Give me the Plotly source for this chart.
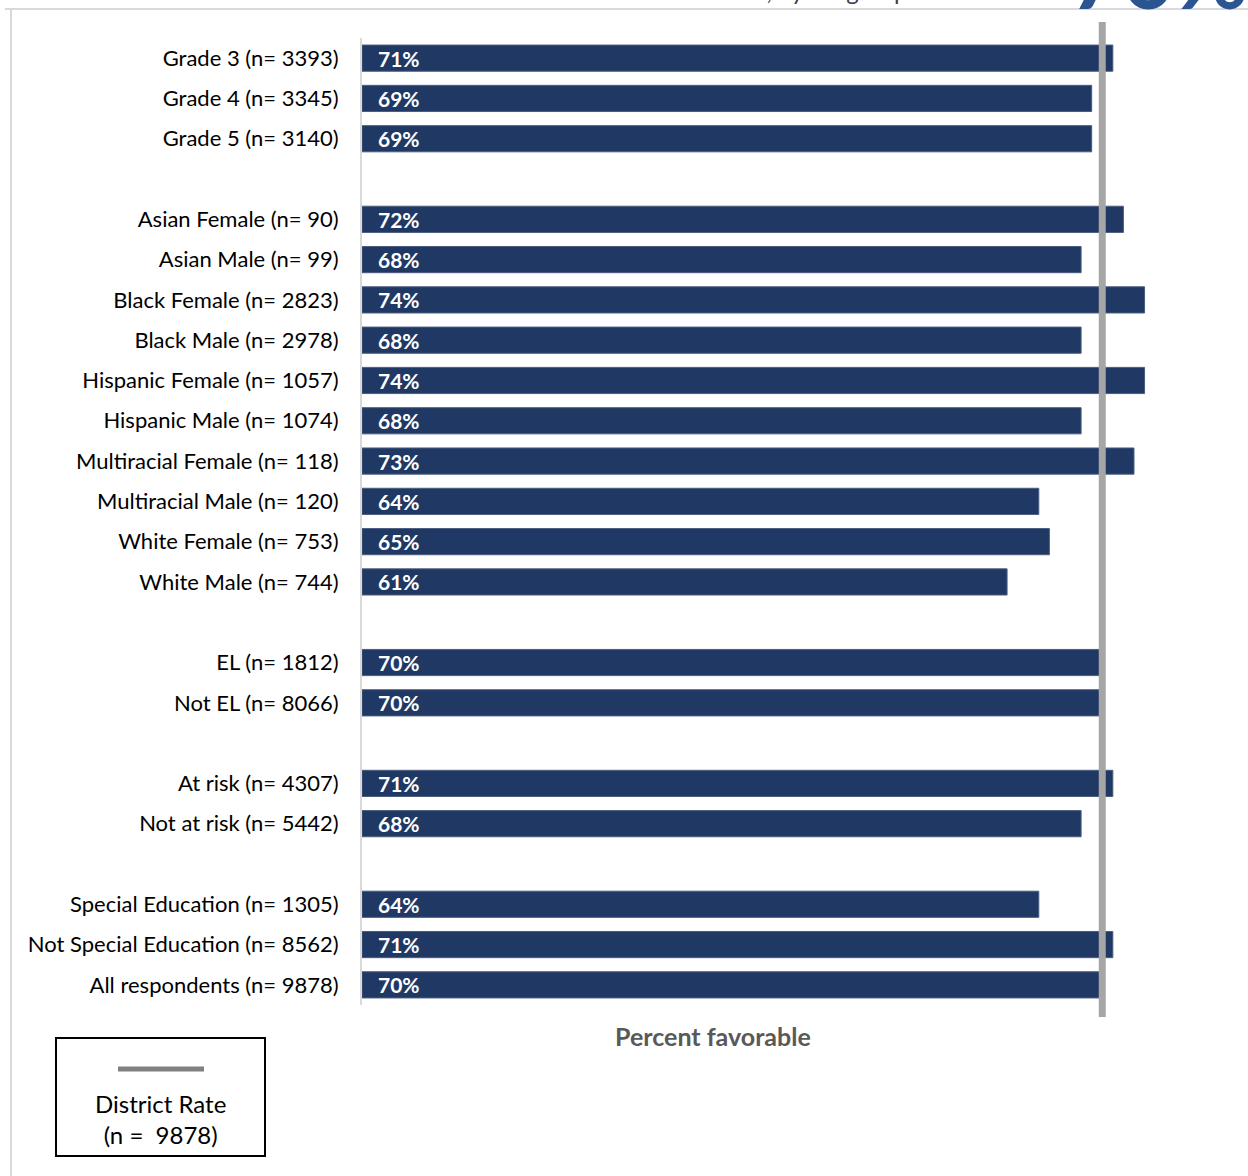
import plotly.graph_objects as go

# ---- data -------------------------------------------------------------
grade_labels = ["Grade 3 (n= 3393)", "Grade 4 (n= 3345)", "Grade 5 (n= 3140)"]
grade_values = [71, 69, 69]

race_gender_labels = [
    "Asian Female (n= 90)", "Asian Male (n= 99)",
    "Black Female (n= 2823)", "Black Male (n= 2978)",
    "Hispanic Female (n= 1057)", "Hispanic Male (n= 1074)",
    "Multiracial Female (n= 118)", "Multiracial Male (n= 120)",
    "White Female (n= 753)", "White Male (n= 744)",
]
race_gender_values = [72, 68, 74, 68, 74, 68, 73, 64, 65, 61]

el_labels = ["EL (n= 1812)", "Not EL (n= 8066)"]
el_values = [70, 70]

risk_labels = ["At risk (n= 4307)", "Not at risk (n= 5442)"]
risk_values = [71, 68]

sped_labels = ["Special Education (n= 1305)", "Not Special Education (n= 8562)",
               "All respondents (n= 9878)"]
sped_values = [64, 71, 70]

district_rate = 70
district_n = 9878

groups = [
    (grade_labels, grade_values),
    (race_gender_labels, race_gender_values),
    (el_labels, el_values),
    (risk_labels, risk_values),
    (sped_labels, sped_values),
]

# ---- layout geometry (pixels) ------------------------------------------
W, H = 1248, 1176
M_L, M_R, M_T, M_B = 362, 40, 38, 171
PW = W - M_L - M_R
PH = H - M_T - M_B
X_MAX = 80

def px_x(px):
    return (px - M_L) / PW

def px_y(py):
    return (H - M_B - py) / PH

FONT = "Lato"
NAVY = "#203864"

# categories with blank spacer rows between groups
cats, vals = [], []
for gi, (labs, vs) in enumerate(groups):
    if gi > 0:
        cats.append(" " * gi)
        vals.append(None)
    cats.extend(labs)
    vals.extend(vs)

bar_cats = [c for c, v in zip(cats, vals) if v is not None]
bar_vals = [v for v in vals if v is not None]

fig = go.Figure()
fig.add_trace(go.Bar(
    y=bar_cats, x=bar_vals, orientation="h", width=0.65,
    marker=dict(color=NAVY, line=dict(color="#4a5d80", width=1)),
    hoverinfo="skip", showlegend=False,
))

annotations = []
for c, v in zip(bar_cats, bar_vals):
    annotations.append(dict(
        x=0, y=c, xref="x", yref="y", text=f"<b>{v}%</b>",
        showarrow=False, xanchor="left", yanchor="middle", xshift=14,
        font=dict(family=FONT, size=21, color="white"),
    ))

# axis title
annotations.append(dict(
    x=px_x(713), y=px_y(1036), xref="paper", yref="paper",
    xanchor="center", yanchor="middle",
    text="<b>Percent favorable</b>", showarrow=False,
    font=dict(family=FONT, size=25, color="#595959"),
))

# legend box text
annotations.append(dict(
    x=px_x(160), y=px_y(1119), xref="paper", yref="paper",
    xanchor="center", yanchor="middle",
    text="District Rate<br>(n =  %d)" % district_n, showarrow=False,
    font=dict(family=FONT, size=24, color="#000000"),
))

# headline figure and title (mostly above the visible area)
annotations.append(dict(
    x=px_x(1250), y=px_y(30), xref="paper", yref="paper",
    text=f"<b>{district_rate}%</b>", showarrow=False,
    xanchor="right", yanchor="bottom",
    font=dict(family=FONT, size=90, color="#2b5590"),
))
annotations.append(dict(
    x=px_x(745), y=px_y(7), xref="paper", yref="paper",
    text="Percent favorable, by subgroup", showarrow=False,
    xanchor="center", yanchor="bottom",
    font=dict(family=FONT, size=24, color="#404040"),
))

shapes = [
    # district rate reference line
    dict(type="line", xref="x", yref="paper", x0=district_rate, x1=district_rate,
         y0=px_y(1017), y1=px_y(22), line=dict(color="#a6a6a6", width=7)),
    # legend box
    dict(type="rect", xref="paper", yref="paper",
         x0=px_x(56), x1=px_x(265), y0=px_y(1156), y1=px_y(1038),
         line=dict(color="#000000", width=2), fillcolor="rgba(0,0,0,0)"),
    dict(type="line", xref="paper", yref="paper",
         x0=px_x(118), x1=px_x(204), y0=px_y(1069), y1=px_y(1069),
         line=dict(color="#808080", width=5)),
    # page frame
    dict(type="line", xref="paper", yref="paper",
         x0=px_x(5), x1=px_x(1248), y0=px_y(9), y1=px_y(9),
         line=dict(color="#d9d9d9", width=2)),
    dict(type="line", xref="paper", yref="paper",
         x0=px_x(11), x1=px_x(11), y0=px_y(1176), y1=px_y(9),
         line=dict(color="#d9d9d9", width=2)),
]

fig.update_layout(
    width=W, height=H,
    margin=dict(l=M_L, r=M_R, t=M_T, b=M_B, autoexpand=False),
    paper_bgcolor="white", plot_bgcolor="white",
    bargap=0.35,
    annotations=annotations,
    shapes=shapes,
    xaxis=dict(range=[0, X_MAX], showgrid=False, zeroline=False,
               showticklabels=False, ticks="", showline=False, fixedrange=True),
    yaxis=dict(categoryorder="array", categoryarray=cats, type="category",
               range=[len(cats) - 0.5, -0.5], showgrid=False, zeroline=False,
               ticks="", showline=True, linecolor="#d9d9d9", linewidth=2,
               ticklabelstandoff=17,
               tickfont=dict(family=FONT, size=22, color="#000000")),
    font=dict(family=FONT),
)

fig.write_html("out.html")
